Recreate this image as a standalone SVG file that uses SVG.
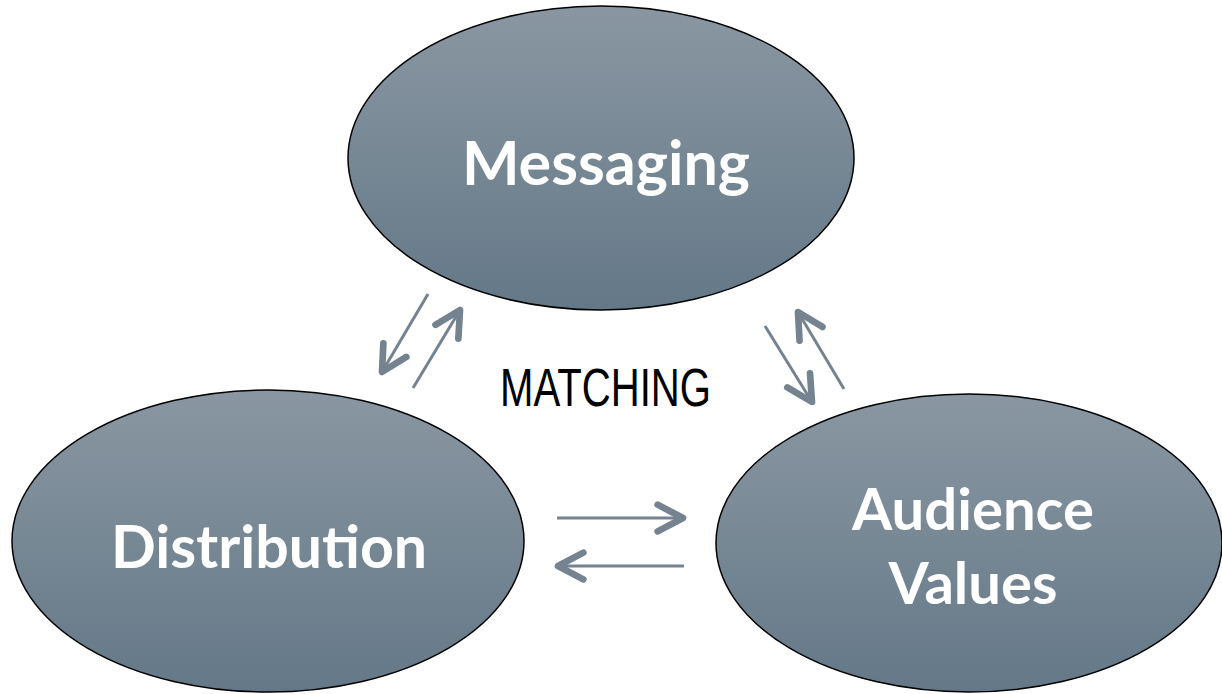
<svg xmlns="http://www.w3.org/2000/svg" width="1222" height="694" viewBox="0 0 1222 694">
  <defs>
    <linearGradient id="g" x1="0" y1="0" x2="0" y2="1">
      <stop offset="0" stop-color="#8a97a2"/>
      <stop offset="1" stop-color="#647887"/>
    </linearGradient>
    <marker id="ah" markerUnits="userSpaceOnUse" markerWidth="40" markerHeight="40" viewBox="-25 -15 30 30" refX="0" refY="0" orient="auto" overflow="visible">
      <path d="M-19,-10 L0,0 L-19,10" fill="none" stroke="#74838f" stroke-width="5" stroke-linecap="round" stroke-linejoin="round"/>
    </marker>
  </defs>
  <style>
    .node ellipse { fill: url(#g); stroke: #000; stroke-width: 1.5; }
    .lbl { font-family: Lato, "Open Sans", sans-serif; font-weight: bold; fill: #fff; text-anchor: middle; }
    .conn line { stroke: #74838f; stroke-width: 3; marker-end: url(#ah); }
    .mid { font-family: "Liberation Sans", Arial, sans-serif; fill: #000; }
  </style>
  <rect width="1222" height="694" fill="#fff"/>
  <g id="messaging" class="node">
    <ellipse cx="601" cy="158" rx="253" ry="152"/>
    <text class="lbl" x="606" y="185" font-size="61">Messaging</text>
  </g>
  <g id="distribution" class="node">
    <ellipse cx="268" cy="541" rx="256" ry="151"/>
    <text class="lbl" x="269" y="568" font-size="59">Distribution</text>
  </g>
  <g id="audience" class="node">
    <ellipse cx="969" cy="543" rx="253" ry="149"/>
    <text class="lbl" x="973" y="530" font-size="58">Audience</text>
    <text class="lbl" x="973" y="604" font-size="58">Values</text>
  </g>
  <g id="connectors" class="conn">
    <line x1="428" y1="294" x2="382" y2="372"/>
    <line x1="413" y1="388" x2="460" y2="310"/>
    <line x1="765" y1="326" x2="812" y2="402"/>
    <line x1="844" y1="389" x2="798" y2="312"/>
    <line x1="557" y1="518" x2="683" y2="518"/>
    <line x1="684" y1="566" x2="558" y2="566"/>
  </g>
  <text class="mid" x="500" y="406" font-size="54" textLength="211" lengthAdjust="spacingAndGlyphs">MATCHING</text>
</svg>
